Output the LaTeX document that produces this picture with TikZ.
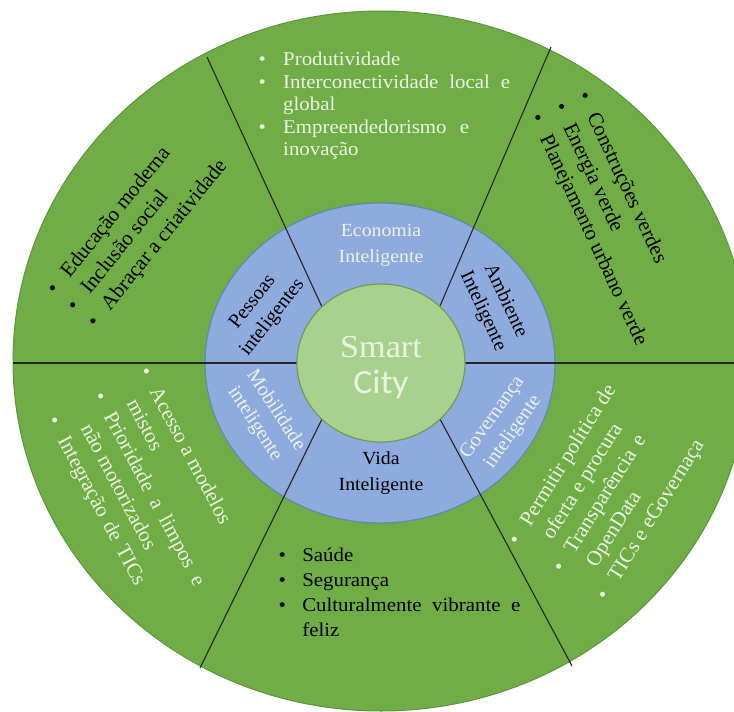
\documentclass[tikz,border=0pt]{standalone}
\usepackage{fontspec}
\setmainfont{Liberation Serif}
\newfontfamily\wideserif[FakeStretch=1.07]{Liberation Serif}
\newfontfamily\calibrifont[FakeStretch=1.05]{Carlito}
\definecolor{outergreen}{HTML}{70AD47}
\definecolor{outeredge}{HTML}{5E9440}
\definecolor{ringblue}{HTML}{8FAADC}
\definecolor{ringedge}{HTML}{5B8DB0}
\definecolor{innergreen}{HTML}{A9D18E}
\definecolor{inneredge}{HTML}{6E9E58}
\definecolor{lighttext}{HTML}{EAF3E2}
\begin{document}
\begin{tikzpicture}[x=1pt,y=-1pt,
  flatlist/.style={inner sep=0pt, anchor=west, font=\wideserif\fontsize{19.5}{22.5}\selectfont},
  rotlist/.style={inner sep=0pt, anchor=west, font=\fontsize{21}{26}\selectfont},
  flatlabel/.style={inner sep=0pt, align=center, font=\wideserif\fontsize{18.5}{26}\selectfont},
  rotlabel/.style={inner sep=0pt, align=center, font=\fontsize{20}{25}\selectfont},
  divider/.style={draw=black!85, line width=1.1pt}]
\useasboundingbox (0,0) rectangle (734,712);
\fill[white] (0,0) rectangle (734,712);
\clip (0,0) rectangle (734,712);
% rings
\draw[fill=outergreen, draw=outeredge, line width=1pt] (381,361) ellipse [x radius=368pt, y radius=350pt];
\draw[fill=ringblue, draw=ringedge, line width=1.2pt] (380,363) ellipse [x radius=175pt, y radius=160pt];
% divider end points
\coordinate (hlA) at (13,363);  \coordinate (hlB) at (300,363);
\coordinate (hrA) at (462,363); \coordinate (hrB) at (750,363);
\coordinate (ulA) at (207,57);  \coordinate (ulB) at (322,307);
\coordinate (urA) at (551,47);  \coordinate (urB) at (440,306);
\coordinate (llA) at (200,668); \coordinate (llB) at (322,419);
\coordinate (lrA) at (572,666); \coordinate (lrB) at (440,419);
\draw[divider] (hlA) -- (hlB);
\draw[divider] (hrA) -- (hrB);
\draw[divider] (ulA) -- (ulB);
\draw[divider] (urA) -- (urB);
\draw[divider] (llA) -- (llB);
\draw[divider] (lrA) -- (lrB);
\draw[fill=innergreen, draw=inneredge, line width=1.2pt] (381,363) ellipse [x radius=84pt, y radius=79pt];
% centre
\node[inner sep=0pt, text=lighttext, font=\wideserif\fontsize{32}{32}\selectfont] (smart) at (381,347) {Smart};
\node[inner sep=0pt, text=lighttext, font=\calibrifont\fontsize{34}{34}\selectfont] (city) at (381,385) {City};
% ring labels
\node[flatlabel, text=lighttext] (economia) at (381,245) {Economia\\Inteligente};
\node[flatlabel, text=black] (vida) at (381,473) {Vida\\Inteligente};
\node[rotlabel, text=black, rotate=52] (pessoas) at (263,310) {Pessoas\\inteligentes};
\node[rotlabel, text=black, rotate=-65] (ambiente) at (494,306) {Ambiente\\Inteligente};
\node[rotlabel, text=lighttext, rotate=-57] (mobilidade) at (265,417) {Mobilidade\\inteligente};
\node[rotlabel, text=lighttext, rotate=55] (governanca) at (503,425) {Governança\\inteligente};
% lists
\node[flatlist, text=lighttext] (econList) at (258.4,106) {%
\begin{tabular}{@{}c@{\hspace{17.3pt}}l@{}}
\textbullet & Produtividade\\
\textbullet & \makebox[227pt][s]{Interconectividade local e}\\
 & global\\
\textbullet & \makebox[186pt][s]{Empreendedorismo e}\\
 & inovação
\end{tabular}};
\node[rotlist, text=black, rotate=51] (pessoasList) at (71.7,308.9) {%
\begin{tabular}{@{}c@{\hspace{15pt}}l@{}}
\textbullet & Educação moderna\\
\textbullet & Inclusão social\\
\textbullet & Abraçar a criatividade
\end{tabular}};
\node[rotlist, text=black, rotate=-65] (ambienteList) at (558.4,104.6) {%
\begin{tabular}{@{}c@{\hspace{15pt}}l@{}}
\textbullet & Construções verdes\\
\textbullet & Energia verde\\
\textbullet & Planejamento urbano verde
\end{tabular}};
\node[rotlist, text=lighttext, rotate=-62] (mobilidadeList) at (97.3,393.7) {%
\begin{tabular}{@{}c@{\hspace{15pt}}l@{}}
\textbullet & Acesso a modelos\\
 & mistos\\
\textbullet & \makebox[194pt][s]{Prioridade a limpos e}\\
 & não motorizados\\
\textbullet & \makebox[166pt][s]{Integração de TICs}
\end{tabular}};
\node[flatlist, text=black, font=\wideserif\fontsize{19.5}{25}\selectfont] (vidaList) at (278.4,594) {%
\begin{tabular}{@{}c@{\hspace{16.4pt}}l@{}}
\textbullet & Saúde\\
\textbullet & Segurança\\
\textbullet & \makebox[218pt][s]{Culturalmente vibrante e}\\
 & feliz
\end{tabular}};
\node[rotlist, text=lighttext, rotate=58] (governancaList) at (558,571) {%
\begin{tabular}{@{}c@{\hspace{15pt}}l@{}}
\textbullet & Permitir política de\\
 & oferta e procura\\
\textbullet & \makebox[136pt][s]{Transparência e}\\
 & OpenData\\
\textbullet & TICs e eGovernaça
\end{tabular}};
\end{tikzpicture}
\end{document}
